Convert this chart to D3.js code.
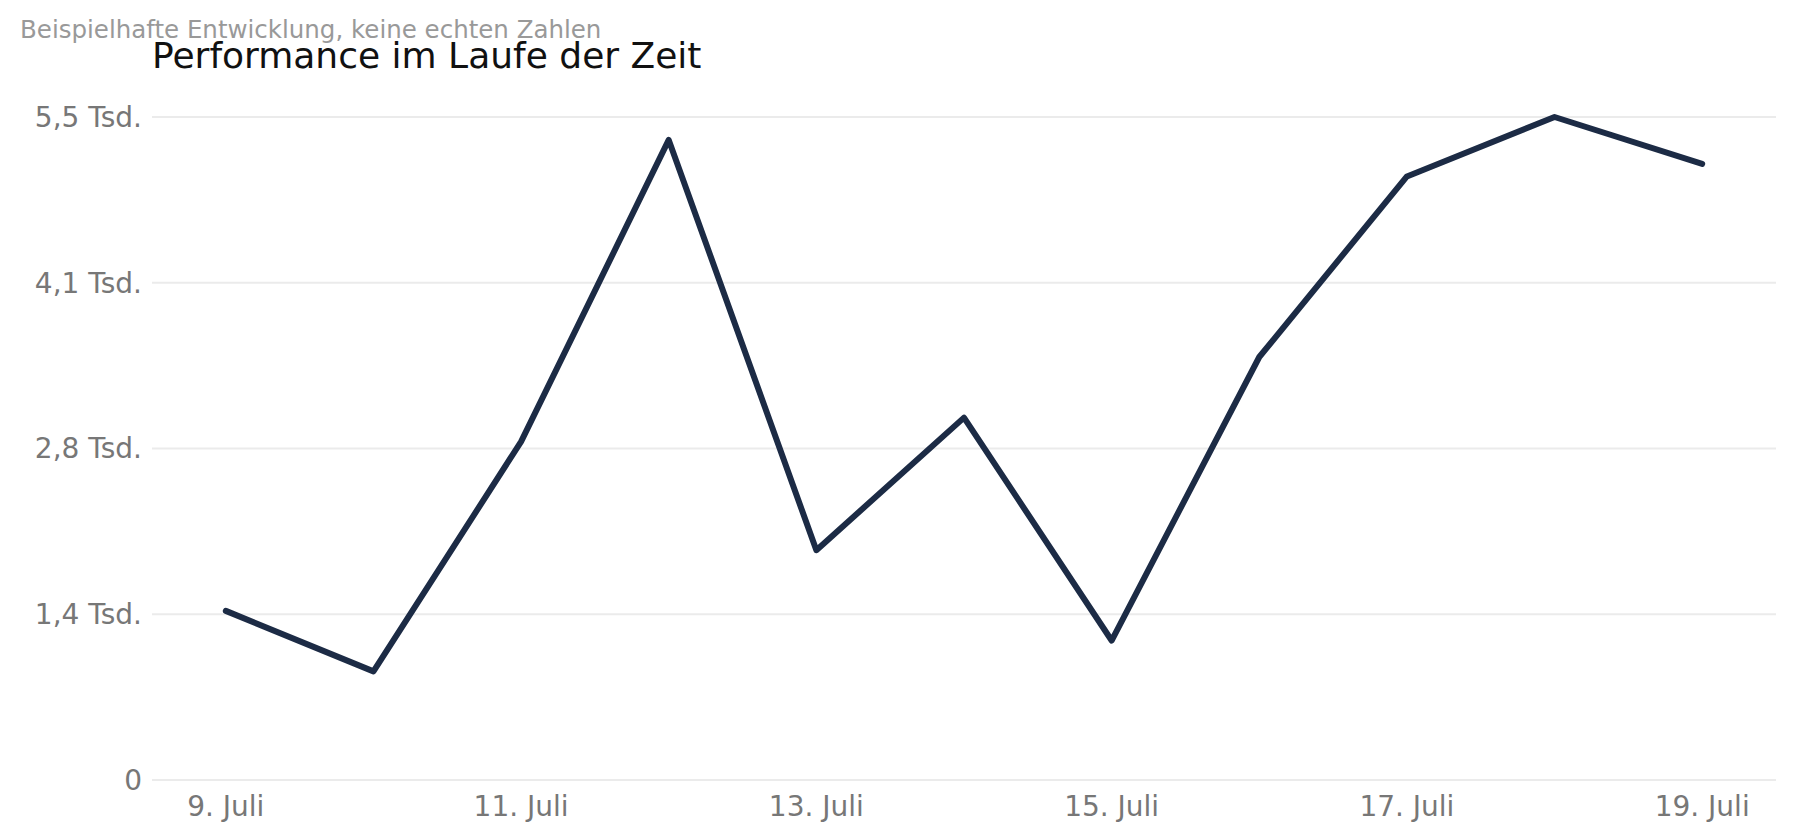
<!DOCTYPE html><html><head><meta charset="utf-8"><script src="https://cdn.jsdelivr.net/npm/d3@7"></script>
<style>body{margin:0;background:#fff;font-family:"DejaVu Sans",sans-serif}</style></head><body><svg id="c" width="1795" height="839"></svg><script>
const categories=["9. Juli","10. Juli","11. Juli","12. Juli","13. Juli","14. Juli","15. Juli","16. Juli","17. Juli","18. Juli","19. Juli"];
const values=[1403,901,2807,5310,1906,3006,1157,3509,5007,5500,5111];
const yTicks=[0,1375,2750,4125,5500];
const yTickLabels=["0","1,4 Tsd.","2,8 Tsd.","4,1 Tsd.","5,5 Tsd."];
const xTickLabels=["9. Juli","11. Juli","13. Juli","15. Juli","17. Juli","19. Juli"];
const svg=d3.select("#c");
const L=152,R=1776,T=117,B=780;
const x=d3.scalePoint().domain(categories).range([L,R]).padding(0.5);
const y=d3.scaleLinear().domain([0,5500]).range([B,T]);
svg.append("g").selectAll("line").data(yTicks).join("line").attr("x1",L).attr("x2",R).attr("y1",d=>y(d)).attr("y2",d=>y(d)).attr("stroke","#ebebeb").attr("stroke-width",2);
svg.append("g").selectAll("text").data(yTicks).join("text").attr("x",L-10).attr("y",d=>y(d)).attr("dy","0.35em").attr("text-anchor","end").attr("fill","#777").attr("font-size",28).text((d,i)=>yTickLabels[i]);
svg.append("g").selectAll("text").data(xTickLabels).join("text").attr("x",d=>x(d)).attr("y",B+36).attr("text-anchor","middle").attr("fill","#777").attr("font-size",28).text(d=>d);
svg.append("path").datum(values).attr("fill","none").attr("stroke","#1c2b45").attr("stroke-width",6).attr("stroke-linejoin","round").attr("stroke-linecap","round")
 .attr("d",d3.line().x((d,i)=>x(categories[i])).y(d=>y(d)));
svg.append("text").attr("x",20).attr("y",38).attr("fill","#999").attr("font-size",24.5).text("Beispielhafte Entwicklung, keine echten Zahlen");
svg.append("text").attr("x",152).attr("y",68).attr("fill","#111").attr("font-size",36).text("Performance im Laufe der Zeit");
</script></body></html>
